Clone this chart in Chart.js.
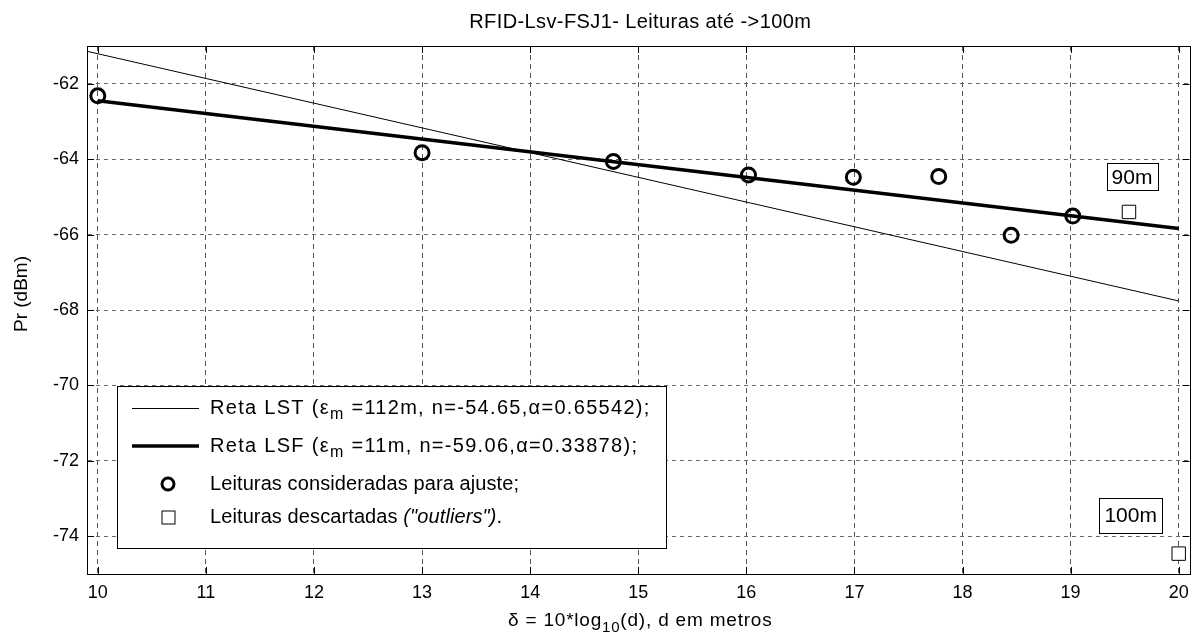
<!DOCTYPE html>
<html>
<head>
<meta charset="utf-8">
<script src="https://cdn.jsdelivr.net/npm/chart.js@4.4.0/dist/chart.umd.min.js"></script>
<style>
html,body{margin:0;padding:0;background:#fff}
</style>
</head>
<body>
<canvas id="rfidChart" width="1200" height="644"></canvas>
<script>
// ticks
const xTicks=[10,11,12,13,14,15,16,17,18,19,20]
const yTicks=[-62,-64,-66,-68,-70,-72,-74]

// leituras consideradas para ajuste
const fitX=[10,13.0,14.77,16.02,16.99,17.78,18.45,19.02]
const fitY=[-62.32,-63.83,-64.06,-64.42,-64.48,-64.46,-66.02,-65.51]

// leituras descartadas (outliers)
const outX=[19.54,20]
const outY=[-65.40,-74.46]
const outLabels=['90m','100m']

// retas ajustadas (extremos)
const lstX=[9.9,20]
const lstY=[-61.14,-67.76]
const lsfX=[10,20]
const lsfY=[-62.45,-65.84]

const FONT='"Liberation Sans", Arial, sans-serif'
Chart.defaults.font.family=FONT
Chart.defaults.font.size=18
Chart.defaults.color='#000'

const toPts=(xs,ys)=>xs.map((x,i)=>({x:x,y:ys[i]}))

function richText(ctx,x,y,parts,size,spacing){
    let cx=x
    ctx.letterSpacing=(spacing||0)+'px'
    parts.forEach(p=>{
        const s=p.sub?Math.round(size*0.78):size
        ctx.font=(p.italic?'italic ':'')+s+'px '+FONT
        ctx.fillText(p.t,cx,p.sub?y+7:y)
        cx+=ctx.measureText(p.t).width
    })
    ctx.letterSpacing='0px'
    return cx-x
}
function richWidth(ctx,parts,size,spacing){
    let w=0
    ctx.letterSpacing=(spacing||0)+'px'
    parts.forEach(p=>{
        const s=p.sub?Math.round(size*0.78):size
        ctx.font=(p.italic?'italic ':'')+s+'px '+FONT
        w+=ctx.measureText(p.t).width
    })
    ctx.letterSpacing='0px'
    return w
}

const decorPlugin={
    id:'decor',
    afterDraw(chart){
        const ctx=chart.ctx
        const a=chart.chartArea
        const xs=chart.scales.x, ys=chart.scales.y
        ctx.save()
        // frame
        ctx.strokeStyle='#000'
        ctx.lineWidth=1
        ctx.setLineDash([])
        ctx.strokeRect(Math.round(a.left)+0.5,Math.round(a.top)+0.5,Math.round(a.right-a.left),Math.round(a.bottom-a.top))
        // inner ticks
        ctx.beginPath()
        xTicks.forEach(v=>{
            const px=Math.round(xs.getPixelForValue(v))+0.5
            ctx.moveTo(px,a.bottom);ctx.lineTo(px,a.bottom-7)
            ctx.moveTo(px,a.top);ctx.lineTo(px,a.top+7)
        })
        yTicks.forEach(v=>{
            const py=Math.round(ys.getPixelForValue(v))+0.5
            ctx.moveTo(a.left,py);ctx.lineTo(a.left+7,py)
            ctx.moveTo(a.right,py);ctx.lineTo(a.right-7,py)
        })
        ctx.stroke()

        // title
        ctx.fillStyle='#000'
        ctx.textBaseline='middle'
        ctx.textAlign='center'
        ctx.font='20px '+FONT
        ctx.letterSpacing='0.4px'
        ctx.fillText('RFID-Lsv-FSJ1- Leituras até ->100m',(a.left+a.right)/2+2,22)
        ctx.letterSpacing='0px'

        // y axis title
        ctx.save()
        ctx.translate(22,294)
        ctx.rotate(-Math.PI/2)
        ctx.font='19px '+FONT
        ctx.fillText('Pr (dBm)',0,0)
        ctx.restore()

        // x axis title
        ctx.textAlign='left'
        const xt=[{t:'δ = 10*log'},{t:'10',sub:true},{t:'(d), d em metros'}]
        const w=richWidth(ctx,xt,19,0.8)
        richText(ctx,(a.left+a.right)/2-w/2+2,621,xt,19,0.8)

        // outlier labels
        const offs=[[3,-35],[-48,-38]]
        const bhs=[27,35]
        ctx.font='21px '+FONT
        outLabels.forEach((lab,i)=>{
            const px=xs.getPixelForValue(outX[i])+offs[i][0]
            const py=ys.getPixelForValue(outY[i])+offs[i][1]
            const tw=ctx.measureText(lab).width
            const bw=tw+10, bh=bhs[i]
            ctx.fillStyle='#fff'
            ctx.fillRect(px-bw/2,py-bh/2,bw,bh)
            ctx.strokeStyle='#000'
            ctx.strokeRect(Math.round(px-bw/2)+0.5,Math.round(py-bh/2)+0.5,Math.round(bw),bh)
            ctx.fillStyle='#000'
            ctx.textAlign='center'
            ctx.fillText(lab,px,py+1)
        })

        // legend
        const lx=117, ly=386, lw=549, lh=162
        ctx.fillStyle='#fff'
        ctx.fillRect(lx,ly,lw,lh)
        ctx.strokeStyle='#000'
        ctx.lineWidth=1
        ctx.strokeRect(lx+0.5,ly+0.5,lw,lh)
        const rows=[408,446,484,517]
        const tx=210, sx0=132, sx1=199, sc=168
        ctx.textAlign='left'
        ctx.fillStyle='#000'
        // LST
        ctx.beginPath();ctx.lineWidth=1;ctx.moveTo(sx0,rows[0]+0.5);ctx.lineTo(sx1,rows[0]+0.5);ctx.stroke()
        richText(ctx,tx,rows[0],[{t:'Reta LST ('},{t:'ε'},{t:'m',sub:true},{t:' =112m, n=-54.65,'},{t:'α'},{t:'=0.65542);'}],20,1.3)
        // LSF
        ctx.beginPath();ctx.lineWidth=3.5;ctx.moveTo(sx0,rows[1]);ctx.lineTo(sx1,rows[1]);ctx.stroke()
        richText(ctx,tx,rows[1],[{t:'Reta LSF ('},{t:'ε'},{t:'m',sub:true},{t:' =11m, n=-59.06,'},{t:'α'},{t:'=0.33878);'}],20,1.3)
        // circle
        ctx.beginPath();ctx.lineWidth=3;ctx.arc(sc,rows[2],6,0,Math.PI*2);ctx.stroke()
        richText(ctx,tx,rows[2],[{t:'Leituras consideradas para ajuste;'}],20,0.1)
        // square
        ctx.lineWidth=1
        ctx.strokeRect(sc-6.5+0.5,rows[3]-6.5+0.5,13,13)
        richText(ctx,tx,rows[3],[{t:'Leituras descartadas '},{t:'("outliers")',italic:true},{t:'.'}],20,0.1)
        ctx.restore()
    }
}

new Chart(document.getElementById('rfidChart'),{
    type:'scatter',
    data:{
        datasets:[
            {
                label:'Leituras consideradas para ajuste',
                data:toPts(fitX,fitY),
                pointStyle:'circle',
                pointRadius:7,
                borderWidth:3,
                borderColor:'#000',
                backgroundColor:'rgba(0,0,0,0)'
            },
            {
                label:'Leituras descartadas',
                data:toPts(outX,outY),
                pointStyle:'rect',
                pointRadius:9.5,
                borderWidth:1,
                borderColor:'#000',
                backgroundColor:'#fff'
            },
            {
                label:'Reta LSF',
                data:toPts(lsfX,lsfY),
                showLine:true,
                pointRadius:0,
                borderWidth:3.5,
                borderColor:'#000'
            },
            {
                label:'Reta LST',
                data:toPts(lstX,lstY),
                showLine:true,
                pointRadius:0,
                borderWidth:1,
                borderColor:'#000'
            }
        ]
    },
    options:{
        responsive:false,
        animation:false,
        devicePixelRatio:1,
        layout:{padding:{top:46,right:8,left:0,bottom:0}},
        plugins:{legend:{display:false},tooltip:{enabled:false},title:{display:false}},
        scales:{
            x:{
                type:'linear',
                min:9.9,
                max:20.1,
                afterBuildTicks:s=>{s.ticks=xTicks.map(v=>({value:v}))},
                afterFit:s=>{s.height=70},
                grid:{color:'#555',lineWidth:1,drawTicks:false},
                border:{display:true,color:'#000',dash:[5,4]},
                ticks:{padding:8,font:{size:18},maxRotation:0}
            },
            y:{
                type:'linear',
                min:-75,
                max:-61,
                afterBuildTicks:s=>{s.ticks=yTicks.map(v=>({value:v}))},
                afterFit:s=>{s.width=87},
                grid:{color:'#6a6a6a',lineWidth:1,drawTicks:false},
                border:{display:true,color:'#000',dash:[4,4]},
                ticks:{padding:8,font:{size:18}},
                title:{display:false}
            }
        }
    },
    plugins:[decorPlugin]
})
</script>
</body>
</html>
